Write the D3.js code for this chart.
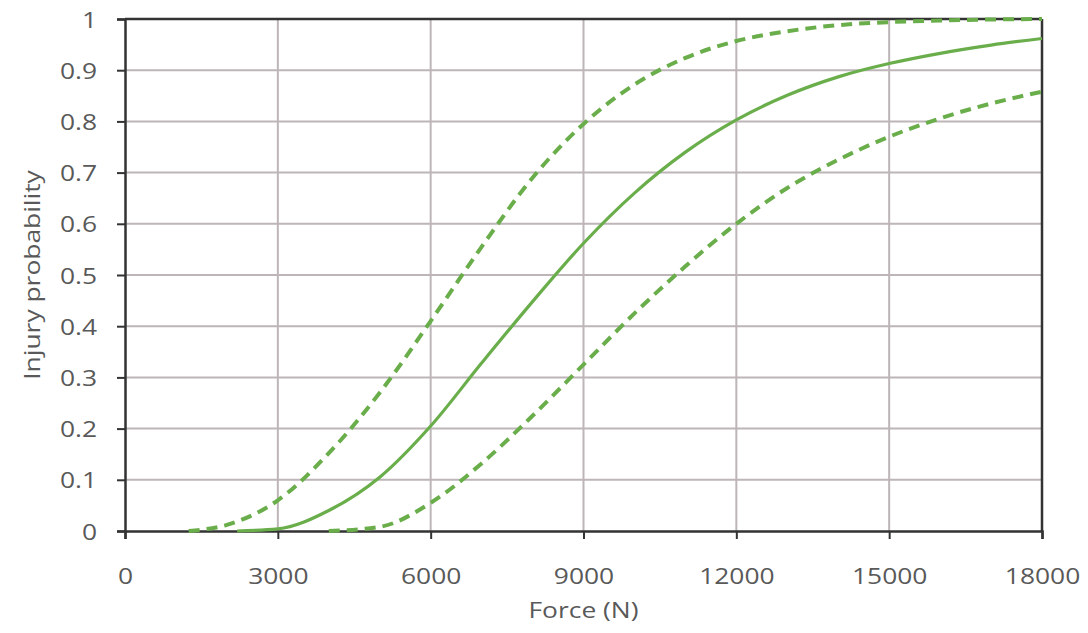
<!DOCTYPE html>
<html>
<head>
<meta charset="utf-8">
<script src="https://cdn.jsdelivr.net/npm/d3@7"></script>
<style>
  body { margin: 0; background: #fff; }
  svg { display: block; }
</style>
</head>
<body>
<svg id="chart" width="1088" height="633"></svg>
<script>
// force values (N) and injury probabilities
var forceMid = [2200, 3000, 4000, 5000, 6000, 7000, 8000, 9000, 10000, 11000, 12000, 13000, 14000, 15000, 16000, 17000, 18000];
var probMid  = [0, 0.004, 0.04, 0.105, 0.205, 0.328, 0.448, 0.562, 0.66, 0.74, 0.803, 0.851, 0.887, 0.913, 0.933, 0.949, 0.962];

var forceUpper = [1250, 2000, 3000, 4000, 5000, 6000, 7000, 8000, 9000, 10000, 11000, 12000, 13000, 14000, 15000, 16000, 17000, 18000];
var probUpper  = [0, 0.012, 0.06, 0.152, 0.27, 0.41, 0.555, 0.69, 0.795, 0.872, 0.924, 0.957, 0.976, 0.988, 0.994, 0.997, 0.999, 1.0];

var forceLower = [4000, 5000, 6000, 7000, 8000, 9000, 10000, 11000, 12000, 13000, 14000, 15000, 16000, 17000, 18000];
var probLower  = [0, 0.008, 0.055, 0.132, 0.225, 0.325, 0.425, 0.517, 0.60, 0.67, 0.725, 0.77, 0.806, 0.835, 0.858];

var xTicks = [0, 3000, 6000, 9000, 12000, 15000, 18000];
var yTicks = [0, 0.1, 0.2, 0.3, 0.4, 0.5, 0.6, 0.7, 0.8, 0.9, 1];

var green = "#6aae4b";

var svg = d3.select("#chart");
var plotL = 125, plotR = 1042, plotT = 19, plotB = 531;

var x = d3.scaleLinear().domain([0, 18000]).range([plotL, plotR]);
var y = d3.scaleLinear().domain([0, 1]).range([plotB, plotT]);

function yFmt(d) {
    return (d === 0 || d === 1) ? String(d) : d.toFixed(1);
}

// gridlines
svg.append("g").selectAll("line").data(yTicks.slice(1, -1)).enter().append("line")
    .attr("x1", plotL).attr("x2", plotR)
    .attr("y1", function(d) { return y(d); }).attr("y2", function(d) { return y(d); })
    .attr("stroke", "#bdb5b8").attr("stroke-width", 2);
svg.append("g").selectAll("line").data(xTicks.slice(1, -1)).enter().append("line")
    .attr("y1", plotT).attr("y2", plotB)
    .attr("x1", function(d) { return x(d); }).attr("x2", function(d) { return x(d); })
    .attr("stroke", "#bdb5b8").attr("stroke-width", 2);

// frame top / right
svg.append("line").attr("x1", plotL).attr("x2", plotR).attr("y1", plotT).attr("y2", plotT)
    .attr("stroke", "#333").attr("stroke-width", 2.5);
svg.append("line").attr("x1", plotR).attr("x2", plotR).attr("y1", plotT).attr("y2", plotB)
    .attr("stroke", "#333").attr("stroke-width", 2.5);

// axes
var xAxis = d3.axisBottom(x).tickValues(xTicks).tickSize(8).tickFormat(d3.format("d"));
var yAxis = d3.axisLeft(y).tickValues(yTicks).tickSize(8).tickFormat(yFmt);

var gx = svg.append("g").attr("transform", "translate(0," + plotB + ")").call(xAxis);
var gy = svg.append("g").attr("transform", "translate(" + plotL + ",0)").call(yAxis);

[gx, gy].forEach(function(g) {
    g.select(".domain").attr("stroke", "#333").attr("stroke-width", 2.5);
    g.selectAll(".tick line").attr("stroke", "#333").attr("stroke-width", 2);
    g.selectAll(".tick text").remove();
});

// labels drawn separately so they can be stretched horizontally
function stretchedText(parent, tx, ty, str, size, anchor) {
    parent.append("text")
        .attr("transform", "translate(" + tx + "," + ty + ") scale(1.2,1)")
        .attr("text-anchor", anchor)
        .attr("font-family", "Open Sans, sans-serif")
        .attr("font-size", size)
        .attr("fill", "#595959")
        .text(str);
}
gx.selectAll(".tick").each(function(d) {
    stretchedText(d3.select(this), 0, 53, d3.format("d")(d), 22, "middle");
});
gy.selectAll(".tick").each(function(d) {
    stretchedText(d3.select(this), -28, 8, yFmt(d), 22, "end");
});

// axis titles
stretchedText(svg, (plotL + plotR) / 2, 618, "Force (N)", 22, "middle");
svg.append("text")
    .attr("transform", "translate(40," + (plotT + plotB) / 2 + ") rotate(-90) scale(1.2,1)")
    .attr("text-anchor", "middle")
    .attr("font-family", "Open Sans, sans-serif")
    .attr("font-size", 22)
    .attr("fill", "#595959")
    .text("Injury probability");

// curves
var line = d3.line()
    .x(function(d) { return x(d[0]); })
    .y(function(d) { return y(d[1]); })
    .curve(d3.curveMonotoneX);

svg.append("path").datum(d3.zip(forceUpper, probUpper))
    .attr("d", line).attr("fill", "none").attr("stroke", green)
    .attr("stroke-width", 4).attr("stroke-dasharray", "11,7");
svg.append("path").datum(d3.zip(forceLower, probLower))
    .attr("d", line).attr("fill", "none").attr("stroke", green)
    .attr("stroke-width", 4).attr("stroke-dasharray", "11,7");
svg.append("path").datum(d3.zip(forceMid, probMid))
    .attr("d", line).attr("fill", "none").attr("stroke", green)
    .attr("stroke-width", 3.2);
</script>
</body>
</html>
